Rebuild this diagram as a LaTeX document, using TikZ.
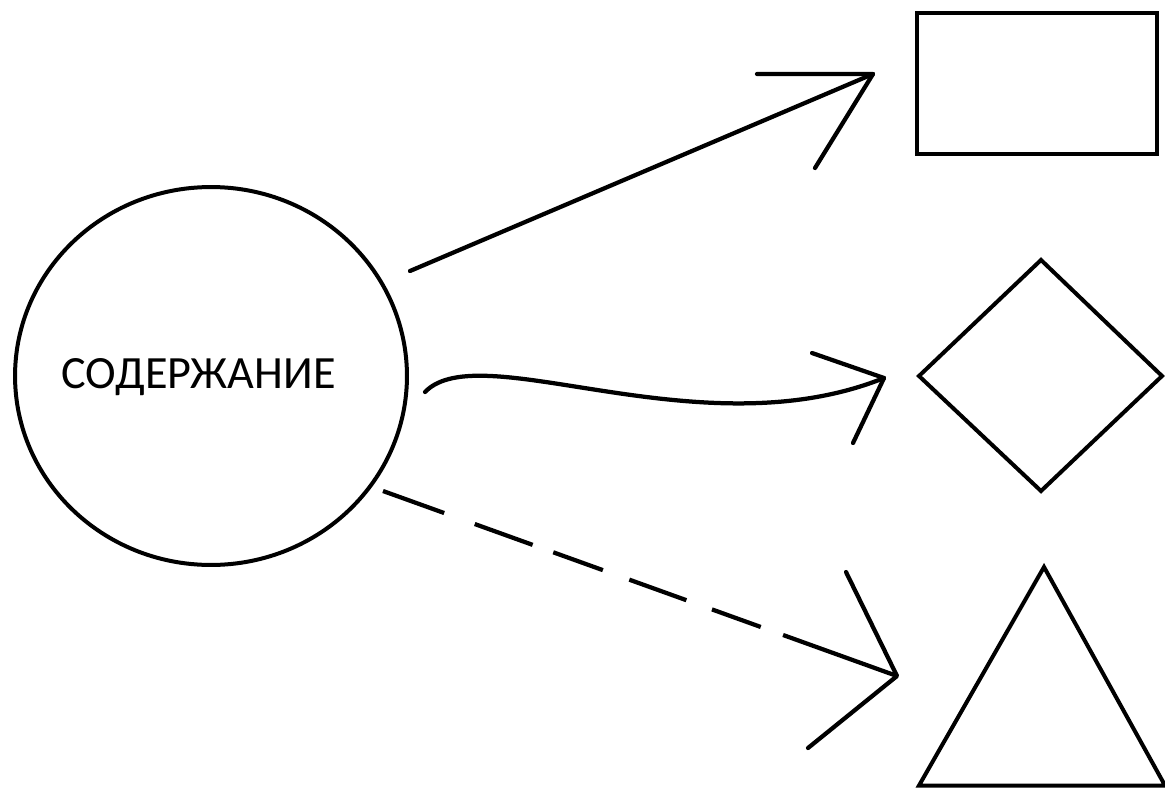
\documentclass[tikz,border=0pt]{standalone}
\usepackage{fontspec}
\setmainfont{Carlito}
\usetikzlibrary{shapes.geometric}
\begin{document}
\begin{tikzpicture}[x=0.02cm,y=-0.02cm,
  stroke/.style={line width=0.085cm,line cap=round,line join=round,black},
  shapebox/.style={line width=0.08cm,line cap=butt,line join=miter,black},
  dashline/.style={line width=0.085cm,line cap=butt,
    dash pattern=on 37pt off 18.5pt on 35pt off 12.5pt on 30pt off 16pt on 34.5pt off 15.5pt on 29.5pt off 13.5pt on 90pt off 10pt}]
\useasboundingbox (0,0) rectangle (1165,787);
\clip (0,0) rectangle (1165,787);
% central circle
\node[draw,line width=0.08cm,ellipse,inner sep=0pt,minimum width=7.84cm,minimum height=7.56cm] (c) at (211,376) {};
\node[anchor=base,inner sep=0pt,font=\fontsize{26.3}{30}\selectfont] (t) at (198.5,388) {СОДЕРЖАНИЕ};
% rectangle
\node[draw,line width=0.08cm,rectangle,inner sep=0pt,minimum width=4.8cm,minimum height=2.82cm] (r) at (1037,83.5) {};
% diamond
\coordinate (dT) at (1041,260);
\coordinate (dR) at (1162,376);
\coordinate (dB) at (1041,491);
\coordinate (dL) at (919,376);
\draw[shapebox] (dT) -- (dR) -- (dB) -- (dL) -- cycle;
% triangle
\coordinate (tA) at (1044,567);
\coordinate (tR) at (1165,785.5);
\coordinate (tL) at (919,785.5);
\draw[shapebox] (tA) -- (tR) -- (tL) -- cycle;
% arrow 1 (straight)
\coordinate (s1) at (410,271);
\coordinate (p1) at (873,74);
\coordinate (h1a) at (757,74);
\coordinate (h1b) at (815,168);
\draw[stroke] (s1) -- (p1);
\draw[stroke] (h1a) -- (p1) -- (h1b);
% arrow 2 (curved)
\coordinate (s2) at (425,392);
\coordinate (p2) at (884,378);
\coordinate (h2a) at (812,353);
\coordinate (h2b) at (853,443);
\draw[stroke] (s2) .. controls (480,335) and (700,452) .. (p2);
\draw[stroke] (h2a) -- (p2) -- (h2b);
% arrow 3 (dashed)
\coordinate (s3) at (383,491);
\coordinate (p3) at (897,676);
\coordinate (h3a) at (846,572);
\coordinate (h3b) at (808,748);
\draw[dashline] (s3) -- (p3);
\draw[stroke] (h3a) -- (p3) -- (h3b);
\end{tikzpicture}
\end{document}
